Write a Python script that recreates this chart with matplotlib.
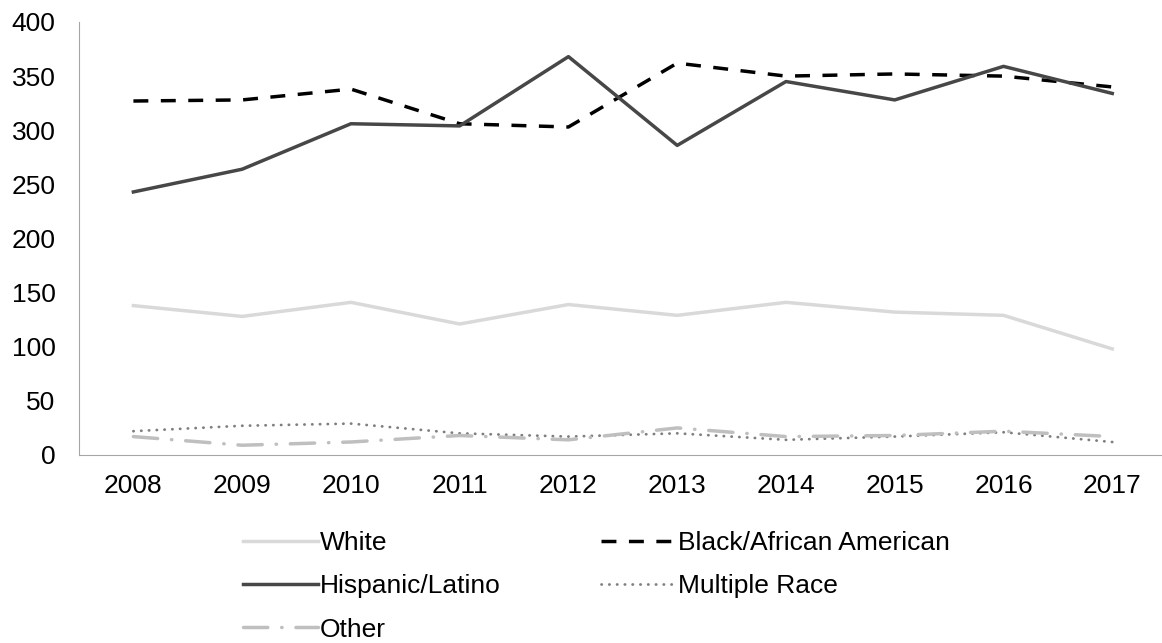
import matplotlib
matplotlib.use("Agg")
import matplotlib.pyplot as plt

plt.rcParams['font.family'] = ['Liberation Sans', 'DejaVu Sans']

years = ['2008', '2009', '2010', '2011', '2012', '2013', '2014', '2015', '2016', '2017']
white = [138, 128, 141, 121, 139, 129, 141, 132, 129, 98]
black = [327, 328, 338, 306, 303, 362, 350, 352, 350, 340]
hispanic = [243, 264, 306, 304, 368, 286, 345, 328, 359, 334]
multiple = [22, 27, 29, 20, 17, 20, 14, 17, 21, 12]
other = [17, 9, 12, 18, 14, 25, 17, 18, 22, 17]

fig = plt.figure(figsize=(11.62, 6.43), dpi=100)
ax = fig.add_axes([0.068, 0.2924, 0.936, 0.6734])

x = range(len(years))
l_white, = ax.plot(x, white, color='#d9d9d9', lw=2.5, label='White')
l_black, = ax.plot(x, black, color='#000000', lw=2.5, ls=(0, (4.3, 3.6)), label='Black/African American')
l_hisp, = ax.plot(x, hispanic, color='#474747', lw=2.5, label='Hispanic/Latino')
l_mult, = ax.plot(x, multiple, color='#7f7f7f', lw=2, ls=(0, (0.1, 2.7)),
                  dash_capstyle='round', label='Multiple Race')
l_other, = ax.plot(x, other, color='#bfbfbf', lw=2.5, ls=(0, (7, 4, 0.1, 4)),
                   dash_capstyle='round', label='Other')

ax.set_xlim(-0.5, len(years) - 0.5)
ax.set_ylim(0, 400)
ax.set_yticks(range(0, 401, 50))
ax.set_xticks(list(x))
ax.set_xticklabels(years)
ax.tick_params(length=0, labelsize=19)
ax.tick_params(axis='x', pad=14)
ax.tick_params(axis='y', pad=17)
for s in ['top', 'right']:
    ax.spines[s].set_visible(False)
for s in ['left', 'bottom']:
    ax.spines[s].set_color('#a6a6a6')

handles = [l_white, l_hisp, l_other, l_black, l_mult]
fig.legend(handles=handles, labels=[h.get_label() for h in handles], ncol=2,
           loc='upper left', bbox_to_anchor=(0.209, 0.174), frameon=False,
           borderpad=0, borderaxespad=0,
           fontsize=19, handlelength=2.84, handletextpad=0.08, columnspacing=3.8,
           labelspacing=0.73)

fig.savefig('out.png', dpi=100)
